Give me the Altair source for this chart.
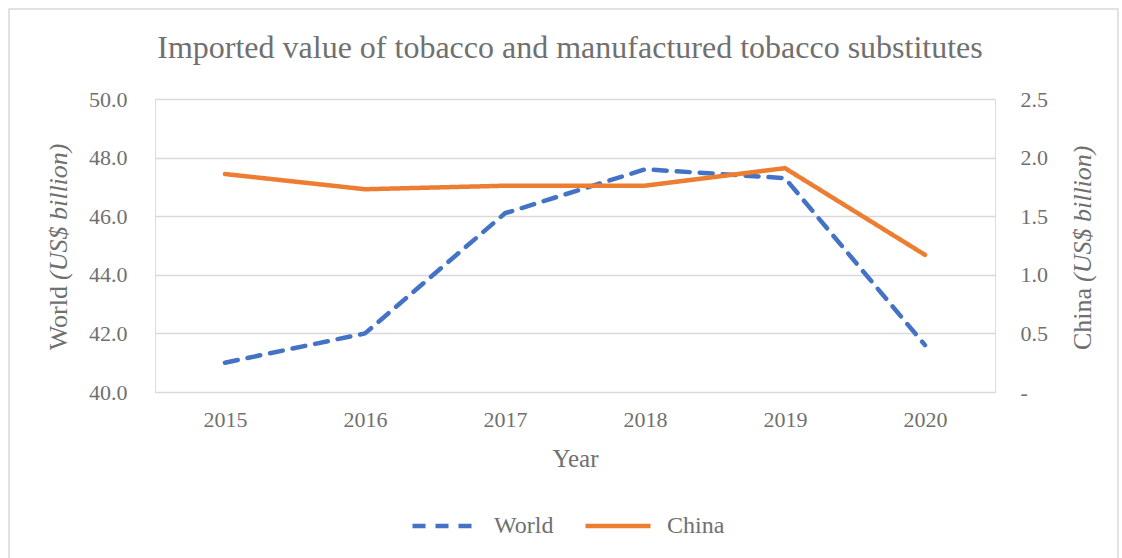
import altair as alt
import pandas as pd

years = ["2015", "2016", "2017", "2018", "2019", "2020"]
world = [41.0, 42.0, 46.1, 47.6, 47.3, 41.6]
china = [1.86, 1.73, 1.76, 1.76, 1.91, 1.17]
series = ["World", "China"]
colors = ["#4472C4", "#ED7D31"]
dashes = [[13, 10], [1, 0]]

FONT = "Liberation Serif"
GRAY = "#707070"

df = pd.DataFrame({
    "Year": years * 2,
    "Series": ["World"] * len(years) + ["China"] * len(years),
    "value": world + china,
})

color_enc = alt.Color(
    "Series:N",
    scale=alt.Scale(domain=series, range=colors),
    legend=alt.Legend(
        title=None, orient="none", direction="horizontal",
        legendX=255, legendY=392,
        symbolType="stroke", symbolSize=4225, symbolStrokeWidth=4.5,
        labelFont=FONT, labelFontSize=24, labelColor=GRAY,
        labelOffset=14, columnPadding=22,
    ),
)
dash_enc = alt.StrokeDash(
    "Series:N",
    scale=alt.Scale(domain=series, range=dashes),
    legend=None,
)
x_enc = alt.X(
    "Year:O", title="Year",
    axis=alt.Axis(labelAngle=0, domain=False, ticks=False, labelPadding=17,
                  titlePadding=16, labelFont=FONT, labelFontSize=22,
                  labelColor=GRAY, titleFont=FONT, titleFontSize=25,
                  titleColor=GRAY, titleFontWeight="normal"),
)

base = alt.Chart(df)

world_line = base.transform_filter(alt.datum.Series == "World").mark_line(
    strokeWidth=4.5, strokeCap="round", strokeJoin="round"
).encode(
    x=x_enc,
    y=alt.Y("value:Q", scale=alt.Scale(domain=[40, 50], nice=False, zero=False),
            axis=alt.Axis(title=None, values=[40, 42, 44, 46, 48, 50], format=".1f",
                          domain=False, ticks=False, labelPadding=28,
                          labelFont=FONT, labelFontSize=22, labelColor=GRAY,
                          grid=True, gridColor="#d9d9d9", gridWidth=1.5)),
    color=color_enc,
    strokeDash=dash_enc,
)

china_line = base.transform_filter(alt.datum.Series == "China").mark_line(
    strokeWidth=4.5, strokeCap="round", strokeJoin="round"
).encode(
    x=x_enc,
    y=alt.Y("value:Q", scale=alt.Scale(domain=[0, 2.5], nice=False),
            axis=alt.Axis(title=None, orient="right",
                          values=[0, 0.5, 1.0, 1.5, 2.0, 2.5],
                          labelExpr="datum.value == 0 ? '-' : format(datum.value, '.1f')",
                          domain=False, ticks=False, labelPadding=25, grid=False,
                          labelFont=FONT, labelFontSize=22, labelColor=GRAY)),
    color=color_enc,
    strokeDash=dash_enc,
)

one = pd.DataFrame({"a": [0]})

def vtitle(text, x, y, align, italic):
    return alt.Chart(one).mark_text(
        text=text, angle=270, align=align, baseline="middle",
        font=FONT, fontSize=26, color=GRAY,
        fontStyle="italic" if italic else "normal",
    ).encode(x=alt.value(x), y=alt.value(y))

titles = (
    vtitle("World", -96, 187, "right", False)
    + vtitle("(US$ billion)", -96, 181, "left", True)
    + vtitle("China", 928, 189, "right", False)
    + vtitle("(US$ billion)", 928, 183, "left", True)
)

main_title = alt.Chart(one).mark_text(
    text="Imported value of tobacco and manufactured tobacco substitutes",
    align="center", baseline="middle", font=FONT, fontSize=32, color=GRAY,
).encode(x=alt.value(415), y=alt.value(-51))

frame = alt.Chart(one).mark_rect(
    fill=None, stroke="#d9d9d9", strokeWidth=1.5
).encode(x=alt.value(-146), x2=alt.value(963), y=alt.value(-90), y2=alt.value(470))

chart = alt.layer(frame, world_line, china_line, titles, main_title).resolve_scale(
    y="independent"
).properties(
    width=840, height=293,
    autosize=alt.AutoSizeParams(type="none"),
    padding={"left": 155, "top": 99, "right": 127, "bottom": 166},
).configure_view(stroke=None).configure(background="white")

chart.save("out.html", embed_options={"renderer": "svg", "actions": False})
